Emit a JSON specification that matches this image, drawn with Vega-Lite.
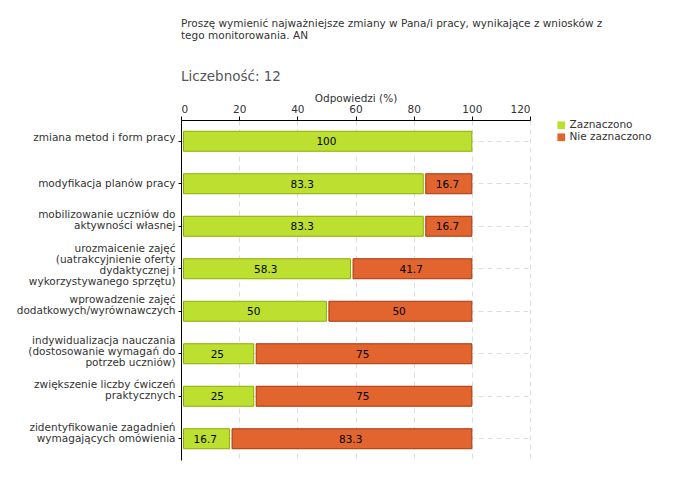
{
  "$schema": "https://vega.github.io/schema/vega-lite/v6.json",
  "width": 349,
  "height": 340,
  "autosize": {"type": "none"},
  "padding": {"left": 181, "top": 120, "right": 150, "bottom": 20},
  "background": "white",
  "title": {
    "text": ["Proszę wymienić najważniejsze zmiany w Pana/i pracy, wynikające z wniosków z", "tego monitorowania. AN"],
    "subtitle": "Liczebność: 12",
    "anchor": "start",
    "frame": "group",
    "font": "DejaVu Sans",
    "fontSize": 10.5,
    "fontWeight": "normal",
    "color": "#333333",
    "lineHeight": 12,
    "subtitleFont": "DejaVu Sans",
    "subtitleFontSize": 13.5,
    "subtitleColor": "#555555",
    "subtitlePadding": 28,
    "offset": 10
  },
  "config": {
    "view": {"stroke": null},
    "axis": {
      "labelFont": "DejaVu Sans",
      "titleFont": "DejaVu Sans",
      "labelColor": "#333333",
      "titleColor": "#333333",
      "titleFontWeight": "normal",
      "domainColor": "#000000",
      "tickColor": "#000000",
      "gridColor": "#dddddd",
      "gridDash": [5, 4]
    },
    "legend": {"labelFont": "DejaVu Sans", "labelColor": "#333333"}
  },
  "data": {
    "values": [
      {"item": "zmiana metod i form pracy", "series": "Zaznaczono", "value": 100},
      {"item": "modyfikacja planów pracy", "series": "Zaznaczono", "value": 83.3},
      {"item": "modyfikacja planów pracy", "series": "Nie zaznaczono", "value": 16.7},
      {"item": "mobilizowanie uczniów do|aktywności własnej", "series": "Zaznaczono", "value": 83.3},
      {"item": "mobilizowanie uczniów do|aktywności własnej", "series": "Nie zaznaczono", "value": 16.7},
      {"item": "urozmaicenie zajęć|(uatrakcyjnienie oferty|dydaktycznej i|wykorzystywanego sprzętu)", "series": "Zaznaczono", "value": 58.3},
      {"item": "urozmaicenie zajęć|(uatrakcyjnienie oferty|dydaktycznej i|wykorzystywanego sprzętu)", "series": "Nie zaznaczono", "value": 41.7},
      {"item": "wprowadzenie zajęć|dodatkowych/wyrównawczych", "series": "Zaznaczono", "value": 50},
      {"item": "wprowadzenie zajęć|dodatkowych/wyrównawczych", "series": "Nie zaznaczono", "value": 50},
      {"item": "indywidualizacja nauczania|(dostosowanie wymagań do|potrzeb uczniów)", "series": "Zaznaczono", "value": 25},
      {"item": "indywidualizacja nauczania|(dostosowanie wymagań do|potrzeb uczniów)", "series": "Nie zaznaczono", "value": 75},
      {"item": "zwiększenie liczby ćwiczeń|praktycznych", "series": "Zaznaczono", "value": 25},
      {"item": "zwiększenie liczby ćwiczeń|praktycznych", "series": "Nie zaznaczono", "value": 75},
      {"item": "zidentyfikowanie zagadnień|wymagających omówienia", "series": "Zaznaczono", "value": 16.7},
      {"item": "zidentyfikowanie zagadnień|wymagających omówienia", "series": "Nie zaznaczono", "value": 83.3}
    ]
  },
  "transform": [
    {"stack": "value", "groupby": ["item"], "sort": [{"field": "series", "order": "descending"}], "as": ["x0", "x1"]},
    {"calculate": "(datum.x0 + datum.x1) / 2", "as": "xm"}
  ],
  "encoding": {
    "y": {
      "field": "item",
      "type": "nominal",
      "sort": null,
      "scale": {"paddingInner": 0.53, "paddingOuter": 0.265},
      "axis": {
        "title": null,
        "bandPosition": 0.5,
        "grid": true,
        "labelExpr": "split(datum.label, '|')",
        "labelFontSize": 10.5,
        "labelLineHeight": 11,
        "labelPadding": 3,
        "tickSize": 3,
        "labelLimit": 200,
        "labelOffset": {
          "condition": [
            {"test": "length(split(datum.value, '|')) == 4", "value": -20},
            {"test": "length(split(datum.value, '|')) == 3", "value": -13},
            {"test": "length(split(datum.value, '|')) == 2", "value": -11},
            {"test": "datum.value == 'zmiana metod i form pracy'", "value": -3}
          ],
          "value": 0
        }
      }
    }
  },
  "layer": [
    {
      "mark": {"type": "bar", "xOffset": 2.5, "x2Offset": 0, "strokeWidth": 1},
      "encoding": {
        "x": {
          "field": "x0",
          "type": "quantitative",
          "scale": {"domain": [0, 120], "nice": false},
          "axis": {
            "orient": "top",
            "title": "Odpowiedzi (%)",
            "titleFontSize": 10.5,
            "titlePadding": 1,
            "values": [0, 10, 20, 30, 40, 50, 60, 70, 80, 90, 100, 110, 120],
            "labelExpr": "datum.value % 20 == 0 ? datum.label : ''",
            "labelFontSize": 10.5,
            "labelPadding": 2,
            "tickSize": 4,
            "tickColor": {"condition": {"test": "datum.value % 20 != 0", "value": "#ee0000"}, "value": "#000000"},
            "grid": true,
            "gridOpacity": {"condition": {"test": "datum.value % 20 != 0 || datum.value == 0", "value": 0}, "value": 1}
          }
        },
        "x2": {"field": "x1"},
        "color": {
          "field": "series",
          "type": "nominal",
          "scale": {"domain": ["Zaznaczono", "Nie zaznaczono"], "range": ["#bde030", "#e26530"]},
          "legend": {
            "title": null,
            "orient": "right",
            "offset": 26,
            "symbolType": "square",
            "symbolSize": 60,
            "symbolStrokeWidth": 0,
            "labelFontSize": 10.5,
            "rowPadding": 1,
            "labelOffset": 3
          }
        },
        "stroke": {
          "field": "series",
          "type": "nominal",
          "scale": {"domain": ["Zaznaczono", "Nie zaznaczono"], "range": ["#8cad00", "#a83508"]},
          "legend": null
        }
      }
    },
    {
      "mark": {"type": "text", "font": "DejaVu Sans", "fontSize": 10.5, "color": "#000000", "align": "center", "baseline": "middle", "dy": 1},
      "encoding": {
        "x": {"field": "xm", "type": "quantitative"},
        "text": {"field": "value", "type": "quantitative"}
      }
    }
  ]
}
